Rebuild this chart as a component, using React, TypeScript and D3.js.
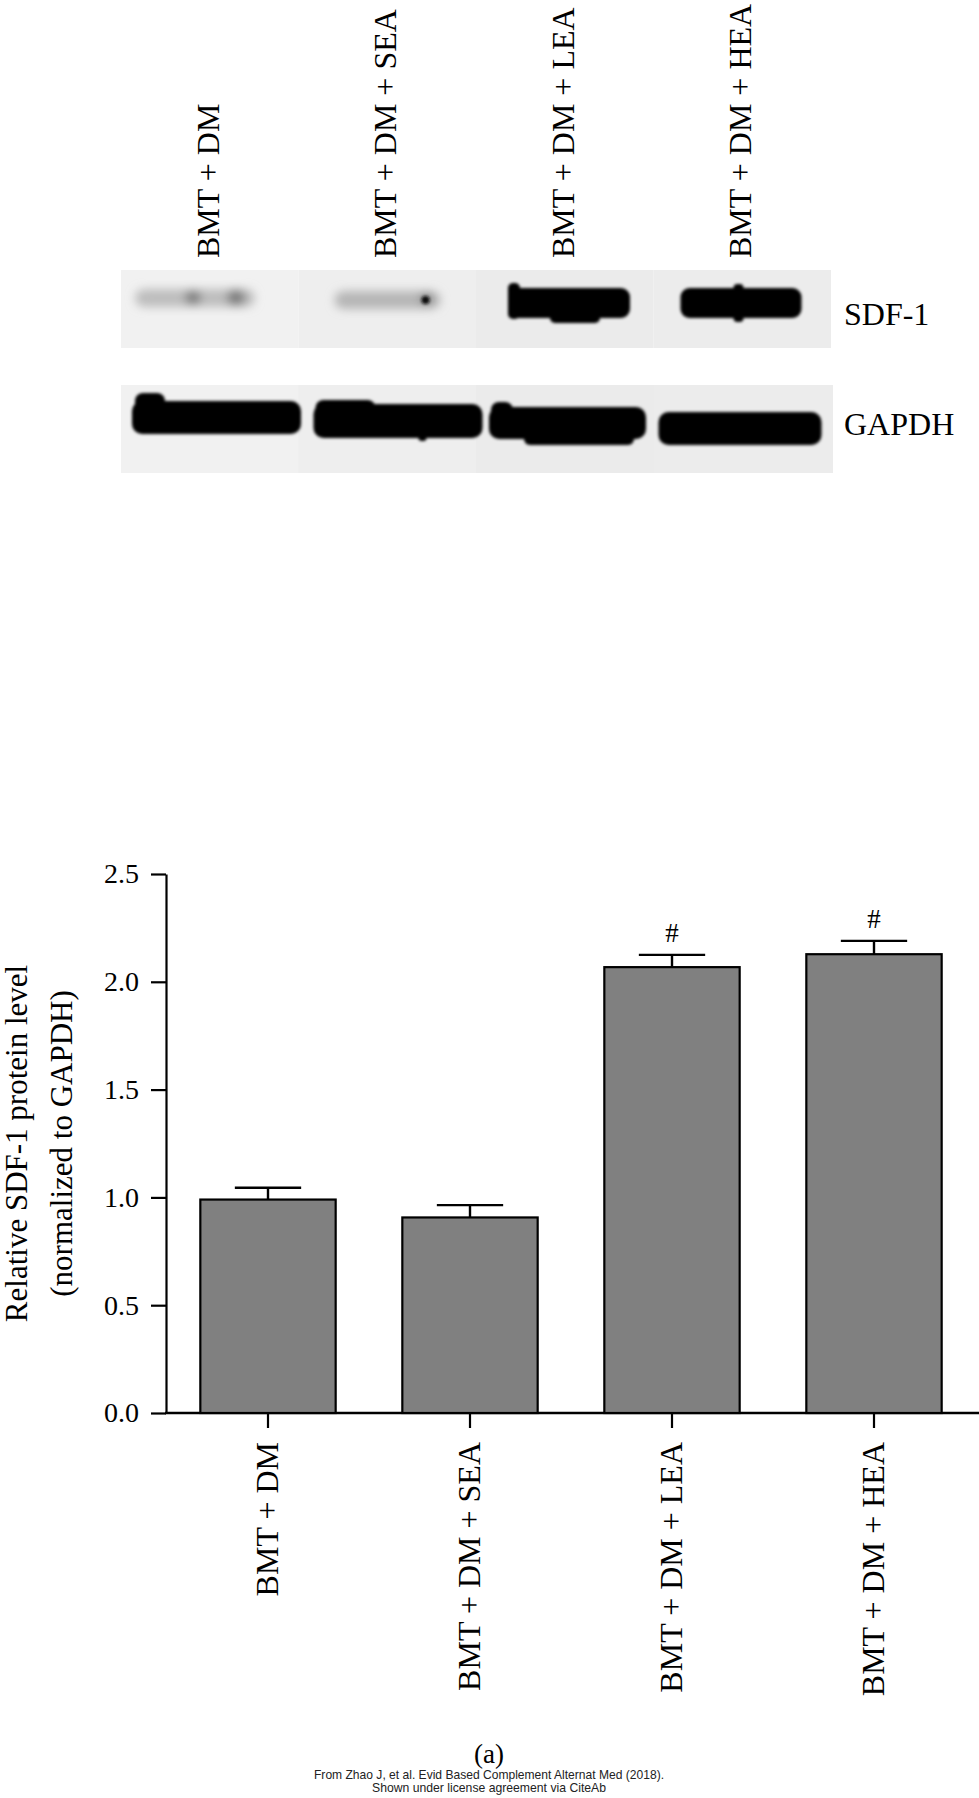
import React, { useEffect, useRef } from 'react';
import * as d3 from 'd3';

// groups, shared by the blot lanes and the bar chart
const categories = ['BMT + DM', 'BMT + DM + SEA', 'BMT + DM + LEA', 'BMT + DM + HEA'];
// relative SDF-1 level, mean and error
const meanValues = [0.99, 0.907, 2.068, 2.128];
const errValues = [0.055, 0.057, 0.057, 0.062];
const significance = ['', '', '#', '#'];
const yTicks = [0, 0.5, 1.0, 1.5, 2.0, 2.5];
// blot rows and band intensity (0 = none, 1 = saturated)
const blotRows = ['SDF-1', 'GAPDH'];
const sdf1Signal = [0.2, 0.22, 1, 1];
const gapdhSignal = [1, 1, 1, 1];

const W = 979;
const H = 1798;
const serif = '"Liberation Serif", "Times New Roman", serif';

type Piece = { dx: number; w: number; dy: number; h: number; rx: number };

// band outlines relative to lane start / row top (the gel is not perfectly even)
const bandShapes: Piece[][][] = [
  [
    [{ dx: 14, w: 120, dy: 19, h: 18, rx: 9 }, { dx: 64, w: 16, dy: 21, h: 13, rx: 6 }, { dx: 106, w: 18, dy: 20, h: 15, rx: 7 }],
    [{ dx: 36, w: 106, dy: 21, h: 18, rx: 9 }, { dx: 122, w: 12, dy: 24, h: 10, rx: 5 }],
    [{ dx: 32, w: 122, dy: 18, h: 30, rx: 9 }, { dx: 74, w: 50, dy: 28, h: 25, rx: 5 }, { dx: 32, w: 12, dy: 13, h: 36, rx: 5 }],
    [{ dx: 27, w: 121, dy: 18, h: 30, rx: 9 }, { dx: 80, w: 10, dy: 14, h: 38, rx: 4 }],
  ],
  [
    [{ dx: 11, w: 169, dy: 16, h: 33, rx: 10 }, { dx: 14, w: 30, dy: 8, h: 36, rx: 8 }],
    [{ dx: 15, w: 169, dy: 19, h: 34, rx: 10 }, { dx: 17, w: 60, dy: 15, h: 30, rx: 8 }, { dx: 120, w: 8, dy: 40, h: 16, rx: 3 }],
    [{ dx: 13, w: 157, dy: 22, h: 32, rx: 10 }, { dx: 48, w: 110, dy: 30, h: 30, rx: 6 }, { dx: 15, w: 22, dy: 17, h: 30, rx: 8 }],
    [{ dx: 5, w: 163, dy: 27, h: 33, rx: 10 }],
  ],
];

const grey = d3.interpolateRgb('#ffffff', '#000000');

const Chart: React.FC = () => {
  const ref = useRef<SVGSVGElement>(null);

  useEffect(() => {
    if (!ref.current) return;
    const svg = d3.select(ref.current);
    svg.selectAll('*').remove();

    const defs = svg.append('defs');
    defs.append('filter').attr('id', 'soft').attr('x', '-20%').attr('y', '-50%').attr('width', '140%').attr('height', '200%')
      .append('feGaussianBlur').attr('stdDeviation', 1.6);
    defs.append('filter').attr('id', 'faint').attr('x', '-30%').attr('y', '-80%').attr('width', '160%').attr('height', '260%')
      .append('feGaussianBlur').attr('stdDeviation', 5);

    // ---------- western blot ----------
    const lane = d3.scaleBand<string>().domain(categories).range([121, 831]);
    const rowY = d3.scaleOrdinal<string, number>().domain(blotRows).range([270, 385]);
    const rowH = d3.scaleOrdinal<string, number>().domain(blotRows).range([78, 88]);
    const laneBg = ['#f1f1f1', '#eeeeee', '#ebebeb', '#ececec'];

    blotRows.forEach((row, ri) => {
      const g = svg.append('g');
      g.selectAll('rect.bg')
        .data(categories)
        .join('rect')
        .attr('x', d => lane(d)!)
        .attr('y', rowY(row))
        .attr('width', lane.bandwidth() + (ri === 1 ? 2 : 0))
        .attr('height', rowH(row))
        .attr('fill', (_, i) => laneBg[i]);

      const signal = ri === 0 ? sdf1Signal : gapdhSignal;
      categories.forEach((c, i) => {
        const s = signal[i];
        const x0 = lane(c)!;
        const y0 = rowY(row);
        const strong = s > 0.5;
        const col = strong ? '#030303' : grey(s * 1.3);
        g.append('g')
          .attr('filter', strong ? 'url(#soft)' : 'url(#faint)')
          .selectAll('rect')
          .data(bandShapes[ri][i])
          .join('rect')
          .attr('x', p => x0 + p.dx)
          .attr('y', p => y0 + p.dy)
          .attr('width', p => p.w)
          .attr('height', p => p.h)
          .attr('rx', p => p.rx)
          .attr('fill', (p, k) => (!strong && k > 0 ? grey(s * 2.6) : col));
      });

      svg.append('text')
        .attr('x', 844)
        .attr('y', rowY(row) + (ri === 0 ? 55 : 50))
        .attr('font-family', serif)
        .attr('font-size', 32)
        .attr('fill', '#000')
        .text(row);
    });

    // the dark dot in the SEA lane
    svg.append('circle')
      .attr('cx', lane(categories[1])! + 127)
      .attr('cy', 300)
      .attr('r', 4)
      .attr('fill', '#111')
      .attr('filter', 'url(#soft)');

    // lane labels above the blot
    svg.append('g')
      .selectAll('text')
      .data(categories)
      .join('text')
      .attr('transform', d => `translate(${lane(d)! + lane.bandwidth() / 2 - 2},258) rotate(-90)`)
      .attr('dy', '0.35em')
      .attr('text-anchor', 'start')
      .attr('font-family', serif)
      .attr('font-size', 32)
      .attr('fill', '#000')
      .text(d => d);

    // ---------- bar chart ----------
    const axisX = 166;
    const x = d3.scaleBand<string>().domain(categories).range([axisX + 1, 975]).paddingInner(0.33).paddingOuter(0.165);
    const y = d3.scaleLinear().domain([0, 2.5]).range([1413, 874]);

    const yAxis = svg.append('g')
      .attr('transform', `translate(${axisX},0)`)
      .call(d3.axisLeft(y).tickValues(yTicks).tickSize(15).tickSizeOuter(0).tickPadding(12).tickFormat(d3.format('.1f')));
    yAxis.select('.domain').attr('stroke', '#000').attr('stroke-width', 2.2);
    yAxis.selectAll('.tick line').attr('stroke', '#000').attr('stroke-width', 2.2);
    yAxis.selectAll('.tick text').attr('font-family', serif).attr('font-size', 28).attr('fill', '#000');

    const xAxis = svg.append('g')
      .attr('transform', `translate(0,${y(0)})`)
      .call(d3.axisBottom(x).tickSize(15).tickSizeOuter(0).tickFormat(() => ''));
    xAxis.select('.domain').remove();
    xAxis.selectAll('.tick line').attr('stroke', '#000').attr('stroke-width', 2.2);
    svg.append('line')
      .attr('x1', axisX - 1).attr('x2', W)
      .attr('y1', y(0)).attr('y2', y(0))
      .attr('stroke', '#000').attr('stroke-width', 2.4);

    svg.append('g')
      .selectAll('text')
      .data(categories)
      .join('text')
      .attr('transform', d => `translate(${x(d)! + x.bandwidth() / 2 - 1},${y(0) + 29}) rotate(-90)`)
      .attr('dy', '0.33em')
      .attr('text-anchor', 'end')
      .attr('font-family', serif)
      .attr('font-size', 32)
      .attr('fill', '#000')
      .text(d => d);

    const bars = svg.append('g');
    // error bars
    bars.selectAll('line.err')
      .data(categories)
      .join('line')
      .attr('x1', d => x(d)! + x.bandwidth() / 2)
      .attr('x2', d => x(d)! + x.bandwidth() / 2)
      .attr('y1', (_, i) => y(meanValues[i]))
      .attr('y2', (_, i) => y(meanValues[i] + errValues[i]))
      .attr('stroke', '#000').attr('stroke-width', 2.4);
    bars.selectAll('line.cap')
      .data(categories)
      .join('line')
      .attr('x1', d => x(d)! + x.bandwidth() * 0.255)
      .attr('x2', d => x(d)! + x.bandwidth() * 0.745)
      .attr('y1', (_, i) => y(meanValues[i] + errValues[i]))
      .attr('y2', (_, i) => y(meanValues[i] + errValues[i]))
      .attr('stroke', '#000').attr('stroke-width', 2.4);
    bars.selectAll('rect')
      .data(categories)
      .join('rect')
      .attr('x', d => x(d)!)
      .attr('y', (_, i) => y(meanValues[i]))
      .attr('width', x.bandwidth())
      .attr('height', (_, i) => y(0) - y(meanValues[i]))
      .attr('fill', '#808080')
      .attr('stroke', '#000')
      .attr('stroke-width', 2.2);

    bars.selectAll('text.sig')
      .data(categories)
      .join('text')
      .attr('x', d => x(d)! + x.bandwidth() / 2)
      .attr('y', (_, i) => y(meanValues[i] + errValues[i]) - 13)
      .attr('text-anchor', 'middle')
      .attr('font-family', serif)
      .attr('font-size', 27)
      .attr('fill', '#000')
      .text((_, i) => significance[i]);

    // y title
    const titleY = (y(0) + y(2.5)) / 2;
    const ty = svg.append('g').attr('font-family', serif).attr('font-size', 31).attr('fill', '#000').attr('text-anchor', 'middle');
    ty.append('text').attr('transform', `translate(27,${titleY}) rotate(-90)`).text('Relative SDF-1 protein level');
    ty.append('text').attr('transform', `translate(72,${titleY}) rotate(-90)`).text('(normalized to GAPDH)');

    // panel letter and source line
    svg.append('text')
      .attr('x', 489).attr('y', 1763)
      .attr('text-anchor', 'middle')
      .attr('font-family', serif).attr('font-size', 27)
      .text('(a)');
    const foot = svg.append('g')
      .attr('font-family', '"Liberation Sans Narrow", "Liberation Sans", Arial, sans-serif')
      .attr('font-size', 13)
      .attr('fill', '#222')
      .attr('text-anchor', 'middle');
    foot.append('text').attr('x', 489).attr('y', 1779).attr('textLength', 350).attr('lengthAdjust', 'spacingAndGlyphs')
      .text('From Zhao J, et al. Evid Based Complement Alternat Med (2018).');
    foot.append('text').attr('x', 489).attr('y', 1792).attr('textLength', 234).attr('lengthAdjust', 'spacingAndGlyphs')
      .text('Shown under license agreement via CiteAb');
  }, []);

  return (
    <svg
      ref={ref}
      width={W}
      height={H}
      viewBox={`0 0 ${W} ${H}`}
      style={{ position: 'absolute', left: 0, top: 0, background: '#fff', display: 'block' }}
    />
  );
};

export default function App() {
  return <Chart />;
}
